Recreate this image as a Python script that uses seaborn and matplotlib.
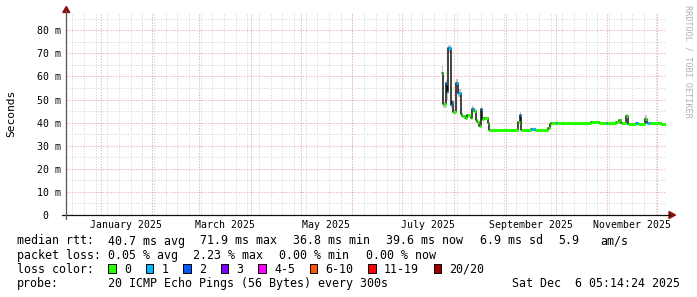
import numpy as np
import pandas as pd
import matplotlib
matplotlib.use("Agg")
import matplotlib.pyplot as plt
import matplotlib.dates as mdates
import matplotlib.transforms as mtransforms
from matplotlib.lines import Line2D
from matplotlib.patches import Polygon, Rectangle
import seaborn as sns

# ---------------- data ----------------
step_times = [
    "2025-07-25 00:00", "2025-07-25 12:00", "2025-07-27 00:00", "2025-07-28 00:00",
    "2025-07-28 12:00", "2025-07-30 00:00", "2025-07-31 00:00", "2025-07-31 12:00",
    "2025-08-02 12:00", "2025-08-03 12:00", "2025-08-05 00:00", "2025-08-06 00:00",
    "2025-08-07 12:00", "2025-08-09 00:00", "2025-08-11 00:00", "2025-08-12 00:00",
    "2025-08-13 00:00", "2025-08-14 00:00", "2025-08-15 00:00", "2025-08-16 00:00",
    "2025-08-17 00:00", "2025-08-18 00:00", "2025-08-19 00:00", "2025-08-21 12:00",
    "2025-08-22 00:00", "2025-09-08 12:00", "2025-09-09 12:00", "2025-09-10 12:00",
    "2025-09-16 12:00", "2025-09-18 12:00", "2025-09-26 12:00", "2025-09-27 12:00",
    "2025-09-28 12:00", "2025-10-01 12:00", "2025-10-02 00:00", "2025-10-22 00:00",
    "2025-10-27 00:00", "2025-10-31 12:00", "2025-11-01 00:00", "2025-11-06 00:00",
    "2025-11-08 00:00", "2025-11-09 00:00", "2025-11-12 12:00", "2025-11-13 12:00",
    "2025-11-18 00:00", "2025-11-19 12:00", "2025-11-23 12:00", "2025-11-25 00:00",
    "2025-11-26 12:00", "2025-12-01 12:00", "2025-12-03 00:00",
]
data_end = "2025-12-06 00:00"

median_ms = [
    61.6, 48.0, 57.3, 53.4, 72.2, 47.7, 48.8, 44.8,
    57.2, 52.7, 43.8, 42.9, 42.2, 43.3, 41.9, 45.9,
    45.1, 41.2, 40.2, 38.7, 45.8, 41.5, 42.0, 39.9,
    37.0, 40.2, 43.3, 37.0, 37.1, 37.0, 37.8, 39.4,
    40.0, 40.0, 40.0, 40.4, 40.0, 40.0, 40.0, 40.4,
    41.0, 40.0, 42.8, 39.3, 40.0, 39.3, 41.5, 39.7,
    39.7, 39.9, 39.4,
]
loss_bucket = [
    0, 0, 1, 1, 1, 1, 1, 0,
    1, 1, 0, 0, 0, 0, 0, 1,
    0, 0, 0, 0, 1, 0, 0, 0,
    0, 0, 1, 0, 1, 0, 0, 0,
    0, 1, 0, 0, 0, 1, 0, 0,
    0, 0, 0, 0, 1, 0, 0, 1,
    0, 0, 0,
]
smoke_hi_ms = [
    65.0, 49.0, 58.5, 55.0, 73.7, 49.0, 50.0, 45.5,
    58.8, 54.5, 44.5, 43.4, 42.7, 43.8, 42.4, 47.2,
    45.8, 41.7, 40.7, 39.2, 47.2, 42.0, 42.5, 40.4,
    37.3, 40.8, 44.6, 37.3, 37.4, 37.3, 38.2, 39.8,
    40.3, 40.3, 40.3, 40.7, 40.3, 40.3, 40.3, 40.7,
    41.3, 40.3, 43.8, 39.6, 40.3, 39.6, 43.3, 40.0,
    40.0, 40.2, 39.7,
]
smoke_lo_ms = [
    60.0, 46.5, 55.0, 50.0, 70.0, 46.5, 47.5, 44.0,
    55.5, 51.0, 43.2, 42.4, 41.8, 42.8, 41.4, 45.0,
    44.5, 40.8, 39.8, 38.2, 44.8, 41.0, 41.6, 39.4,
    36.7, 39.8, 42.5, 36.7, 36.8, 36.7, 37.5, 39.1,
    39.7, 39.7, 39.7, 40.1, 39.7, 39.7, 39.7, 40.1,
    40.7, 39.7, 42.2, 39.0, 39.7, 39.0, 40.8, 39.4,
    39.4, 39.6, 39.1,
]

graph_end = "2025-12-06 05:14:24"
span_days = 360

y_ticks = [0, 10, 20, 30, 40, 50, 60, 70, 80]
y_tick_labels = ["0  ", "10 m", "20 m", "30 m", "40 m", "50 m", "60 m", "70 m", "80 m"]
y_top = 87.5

month_labels = ["January 2025", "March 2025", "May 2025", "July 2025",
                "September 2025", "November 2025"]
month_label_dates = ["2025-01-16 12:00", "2025-03-16 12:00", "2025-05-16 12:00",
                     "2025-07-16 12:00", "2025-09-16 00:00", "2025-11-16 00:00"]

loss_labels = ["0", "1", "2", "3", "4-5", "6-10", "11-19", "20/20"]
loss_colors = ["#26ff00", "#00b8ff", "#0059ff", "#7e00ff",
               "#ff00ff", "#ff5500", "#ff0000", "#a00000"]

stat_rtt = ["median rtt:", "40.7 ms avg", "71.9 ms max", "36.8 ms min",
            "39.6 ms now", "6.9 ms sd", "5.9", "am/s"]
stat_loss = ["packet loss:", "0.05 % avg", "2.23 % max", "0.00 % min", "0.00 % now"]
probe_text = ["probe:", "20 ICMP Echo Pings (56 Bytes) every 300s"]
stamp_text = "Sat Dec  6 05:14:24 2025"

# ---------------- styling / layout ----------------
sns.set_style("white")
plt.rcParams["font.family"] = ["DejaVu Sans Mono"]
plt.rcParams["lines.scale_dashes"] = False
FS = 8.4      # legend font
FS_AX = 7.1   # axis labels
FS_UNIT = 8.1 # unit label

W, H = 697, 297
def fx(px):
    return px / W
def fy(py):
    return 1 - py / H

fig = plt.figure(figsize=(W / 100, H / 100), dpi=100)
fig.patch.set_facecolor("white")
ax = fig.add_axes([fx(66), fy(215), 600 / W, (215 - 13) / H])
ax.set_facecolor("white")

t_end = pd.Timestamp(graph_end)
t_start = t_end - pd.Timedelta(days=span_days)
ax.set_xlim(mdates.date2num(t_start.to_pydatetime()), mdates.date2num(t_end.to_pydatetime()))
ax.set_ylim(0, y_top)

minor_c = "#d6d6d6"
major_c = "#eca6a6"
dots = (0, (1.0, 1.0))
gkw = dict(lw=0.6, ls=dots, antialiased=True)
for d in pd.date_range(t_start.normalize(), t_end, freq="W-SUN"):
    ax.axvline(mdates.date2num(d.to_pydatetime()), color=minor_c, zorder=0, **gkw)
for v in np.arange(5, y_top, 10):
    ax.axhline(v, color=minor_c, zorder=0, **gkw)
for d in pd.date_range(t_start.normalize(), t_end, freq="MS"):
    ax.axvline(mdates.date2num(d.to_pydatetime()), color=major_c, zorder=1, **gkw)
for v in y_ticks[1:]:
    ax.axhline(v, color=major_c, zorder=1, **gkw)

# data frame
times = pd.to_datetime(step_times + [data_end])
df = pd.DataFrame({
    "t": times,
    "median": median_ms + [median_ms[-1]],
    "hi": smoke_hi_ms + [smoke_hi_ms[-1]],
    "lo": smoke_lo_ms + [smoke_lo_ms[-1]],
})
tn = mdates.date2num(df["t"].dt.to_pydatetime())

# smoke
ax.fill_between(tn, df["lo"], df["hi"], step="post", color="#c4c4c4", lw=0, zorder=2)
# median step line
sns.lineplot(x=tn, y=df["median"].values, drawstyle="steps-post", color="#111111",
             lw=1.1, ax=ax, estimator=None, sort=False, zorder=3)
# loss coloured median segments
ax.hlines(median_ms, tn[:-1], tn[1:], colors=[loss_colors[b] for b in loss_bucket],
          lw=2.2, zorder=4)

ax.set_xticks([])
ax.set_yticks([])
for s in ax.spines.values():
    s.set_visible(False)
ax.set_xlabel("")
ax.set_ylabel("")

# tick labels
ytr = mtransforms.blended_transform_factory(fig.transFigure, ax.transData)
for v, lab in zip(y_ticks, y_tick_labels):
    ax.text(fx(60.5), v, lab, transform=ytr, ha="right", va="center_baseline",
            fontsize=FS_AX, color="black")
xtr = mtransforms.blended_transform_factory(ax.transData, fig.transFigure)
for d, lab in zip(month_label_dates, month_labels):
    ax.text(mdates.date2num(pd.Timestamp(d).to_pydatetime()), fy(228), lab,
            transform=xtr, ha="center", va="baseline", fontsize=FS_AX, color="black")

fig.text(fx(11), fy(113), "Seconds", rotation=90, ha="center", va="center",
         fontsize=FS_UNIT, color="black")
fig.text(fx(688), fy(5), "RRDTOOL / TOBI OETIKER", rotation=270, ha="center",
         va="top", fontsize=6.1, color="#b0b0b0")

# axes lines and arrows
fig.add_artist(Line2D([fx(62), fx(670)], [fy(215), fy(215)], color="#111111", lw=0.9))
fig.add_artist(Line2D([fx(66.3), fx(66.3)], [fy(219), fy(11)], color="#555555", lw=0.9))
arrow_c = "#8b1010"
fig.add_artist(Polygon([[fx(669), fy(211.5)], [fx(669), fy(218.5)], [fx(675.5), fy(215)]],
                       closed=True, color=arrow_c, transform=fig.transFigure))
fig.add_artist(Polygon([[fx(62.8), fy(12.5)], [fx(69.8), fy(12.5)], [fx(66.3), fy(6.5)]],
                       closed=True, color=arrow_c, transform=fig.transFigure))

# legend / statistics
rtt_x = [16.7, 107.7, 200.0, 293.3, 386.3, 479.7, 558.0, 600.3]
for x, s in zip(rtt_x, stat_rtt):
    fig.text(fx(x), fy(244.5), s, ha="left", va="baseline", fontsize=FS, color="black")
loss_x = [16.7, 107.7, 193.3, 279.3, 366.0]
for x, s in zip(loss_x, stat_loss):
    fig.text(fx(x), fy(258.6), s, ha="left", va="baseline", fontsize=FS, color="black")
fig.text(fx(16.7), fy(272.7), "loss color:", ha="left", va="baseline", fontsize=FS, color="black")
bx = 108.3
for lab, col in zip(loss_labels, loss_colors):
    fig.add_artist(Rectangle((fx(bx), fy(272.7)), 7.5 / W, 8.5 / H, facecolor=col,
                             edgecolor="black", lw=0.7, transform=fig.transFigure))
    fig.text(fx(bx + 15.7), fy(272.7), lab, ha="left", va="baseline", fontsize=FS, color="black")
    bx = bx + 15.7 + 7.0 * len(lab) + 14.8
fig.text(fx(16.7), fy(286.8), probe_text[0], ha="left", va="baseline", fontsize=FS, color="black")
fig.text(fx(107.7), fy(286.8), probe_text[1], ha="left", va="baseline", fontsize=FS, color="black")
fig.text(fx(680.5), fy(286.8), stamp_text, ha="right", va="baseline", fontsize=FS, color="black")

fig.savefig("out.png", dpi=100, facecolor="white")
